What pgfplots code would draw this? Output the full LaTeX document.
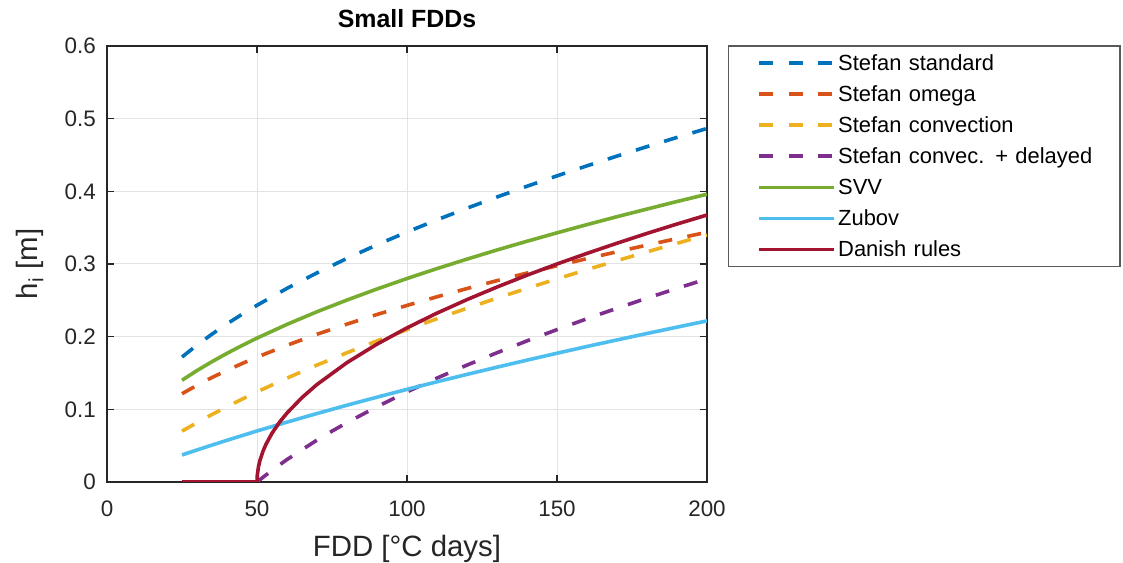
\documentclass[border=0pt]{standalone}
\usepackage{fontspec}
\setmainfont{Liberation Sans}
\usepackage{pgfplots}
\pgfplotsset{compat=1.18}
\definecolor{mblue}{rgb}{0,0.447,0.741}
\definecolor{morange}{rgb}{0.85,0.325,0.098}
\definecolor{myellow}{rgb}{0.929,0.694,0.125}
\definecolor{mpurple}{rgb}{0.494,0.184,0.556}
\definecolor{mgreen}{rgb}{0.466,0.674,0.188}
\definecolor{mcyan}{rgb}{0.301,0.745,0.933}
\definecolor{mred}{rgb}{0.635,0.078,0.184}
\definecolor{axgray}{rgb}{0.15,0.15,0.15}
\begin{document}
\begin{tikzpicture}
\path[use as bounding box] (0,0) rectangle (1123bp,563bp);
\begin{axis}[
  at={(107bp,81bp)}, anchor=south west,
  scale only axis, width=600bp, height=436bp,
  xmin=0, xmax=200, ymin=0, ymax=0.6,
  xtick={0,50,100,150,200},
  ytick={0,0.1,0.2,0.3,0.4,0.5,0.6},
  yticklabel style={/pgf/number format/fixed,/pgf/number format/precision=1},
  /pgf/number format/assume math mode=true,
  tick align=inside, major tick length=7bp,
  tick style={line width=1.6bp, axgray},
  axis line style={line width=1.8bp, axgray},
  grid=major, major grid style={line width=1bp, gray!22},
  ticklabel style={font=\fontsize{22.5}{26}\selectfont, text=axgray},
  xticklabel style={inner sep=0pt, yshift=-19bp, anchor=north},
  yticklabel style={inner sep=0pt, xshift=-11bp, anchor=east},
  xlabel={FDD [°C days]}, ylabel={h\textsubscript{i} [m]},
  label style={font=\fontsize{29.5}{33}\selectfont, text=axgray},
  xlabel style={at={(axis description cs:0.5,0)}, anchor=north, yshift=-50bp},
  ylabel style={at={(axis description cs:0,0.5)}, anchor=south, yshift=60bp},
  title={\textbf{Small FDDs}},
  title style={font=\fontsize{25}{29}\selectfont, at={(axis description cs:0.5,1)}, anchor=south, yshift=9bp},
  legend style={at={(1.0345,1.002)}, anchor=north west, draw=gray!70!black, line width=1.5bp,
    font=\fontsize{22}{26}\selectfont, text=black, inner xsep=8bp, inner ysep=4bp,
    row sep=5.1bp, minimum height=26bp,
    legend cell align=left, text width=272bp},
  legend image code/.code={\path[draw=none] (0bp,0bp) rectangle (1bp,0bp); \draw[#1, line width=3.5bp] (23bp,0bp) -- (98bp,0bp);},
  every axis plot/.append style={line width=3.6bp},
]
\addplot[mblue, dash pattern=on 14bp off 15.5bp] coordinates {
(25,0.172)(30,0.1884)(35,0.2035)(40,0.2176)(45,0.2308)(50,0.2432)(60,0.2665)(70,0.2878)(80,0.3077)(90,0.3264)(100,0.344)(110,0.3608)(120,0.3768)(130,0.3922)(140,0.4070)(150,0.4213)(160,0.4351)(170,0.4485)(180,0.4615)(190,0.4742)(200,0.4865)};
\addlegendentry{Stefan standard}
\addplot[morange, dash pattern=on 14bp off 15.5bp] coordinates {
(25,0.1215)(30,0.1331)(35,0.1438)(40,0.1537)(45,0.1630)(50,0.1718)(60,0.1882)(70,0.2033)(80,0.2173)(90,0.2305)(100,0.243)(110,0.2549)(120,0.2662)(130,0.2771)(140,0.2875)(150,0.2976)(160,0.3074)(170,0.3168)(180,0.3260)(190,0.3350)(200,0.3437)};
\addlegendentry{Stefan omega}
\addplot[myellow, dash pattern=on 14bp off 15.5bp] coordinates {
(25,0.0700)(30,0.0817)(35,0.0929)(40,0.1036)(45,0.1140)(50,0.1240)(60,0.1430)(70,0.1609)(80,0.1779)(90,0.1942)(100,0.2097)(110,0.2247)(120,0.2391)(130,0.2530)(140,0.2665)(150,0.2795)(160,0.2923)(170,0.3046)(180,0.3167)(190,0.3285)(200,0.3400)};
\addlegendentry{Stefan convection}
\addplot[mpurple, dash pattern=on 14bp off 15.5bp] coordinates {
(50,0)(55,0.0161)(60,0.0309)(70,0.0577)(75,0.0700)(80,0.0817)(90,0.1036)(100,0.1240)(110,0.1430)(120,0.1609)(130,0.1779)(140,0.1942)(150,0.2097)(160,0.2247)(170,0.2391)(180,0.2530)(190,0.2665)(200,0.2795)};
\addlegendentry{Stefan convec. + delayed}
\addplot[mgreen] coordinates {
(25,0.14)(30,0.1534)(35,0.1656)(40,0.1771)(45,0.1878)(50,0.198)(60,0.2169)(70,0.2343)(80,0.2504)(90,0.2656)(100,0.28)(110,0.2937)(120,0.3067)(130,0.3193)(140,0.3313)(150,0.3429)(160,0.3542)(170,0.3651)(180,0.3756)(190,0.3860)(200,0.396)};
\addlegendentry{SVV}
\addplot[mcyan] coordinates {
(25,0.0372)(30,0.0441)(35,0.0508)(40,0.0574)(45,0.0638)(50,0.0702)(60,0.0824)(70,0.0942)(80,0.1057)(90,0.1167)(100,0.1275)(110,0.1379)(120,0.1481)(130,0.1580)(140,0.1677)(150,0.1772)(160,0.1865)(170,0.1955)(180,0.2044)(190,0.2131)(200,0.2217)};
\addlegendentry{Zubov}
\addplot[mred] coordinates {
(25,0)(50,0)(50.1,0.0095)(50.5,0.0212)(51,0.03)(52,0.0424)(53,0.052)(55,0.0671)(57.5,0.0822)(60,0.0949)(65,0.1162)(70,0.1342)(80,0.1643)(90,0.1897)(100,0.2121)(110,0.2324)(120,0.2510)(130,0.2683)(140,0.2846)(150,0.3)(160,0.3146)(170,0.3286)(180,0.3421)(190,0.3550)(200,0.3674)};
\addlegendentry{Danish rules}
\end{axis}
\end{tikzpicture}
\end{document}
